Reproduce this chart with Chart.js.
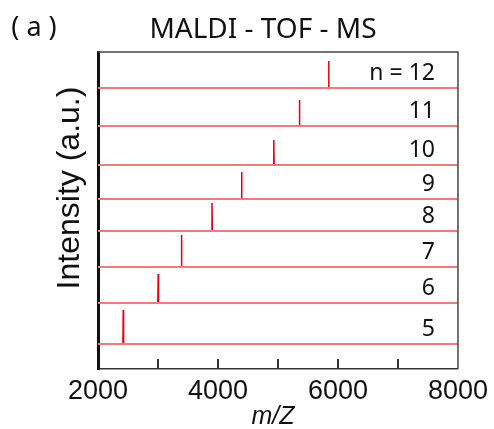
<html lang="en">
<head>
  <meta charset="UTF-8">
  <title>MALDI-TOF-MS</title>
  <script src="https://cdn.jsdelivr.net/npm/chart.js"></script>
  <style>
    body { margin: 0; background: #fff; }
  </style>
</head>
<body>
  <canvas id="msChart" width="494" height="429"></canvas>
  <script>
    // n = 5 ... 12, bottom trace first
    const nValues = [5, 6, 7, 8, 9, 10, 11, 12];
    const peakMz = [2421, 3003, 3391, 3900, 4393, 4930, 5357, 5844];
    const peakHeight = [34, 29, 32, 28, 27, 25, 26, 27];
    const traceOffset = [25, 66, 102, 138, 170, 204, 243, 281];
    const xTicks = [2000, 3000, 4000, 5000, 6000, 7000, 8000];
    const xTickLabels = [2000, 4000, 6000, 8000];

    const datasets = [];
    nValues.forEach((n, i) => {
      const off = traceOffset[i];
      // baseline
      datasets.push({
        data: [{ x: 2000, y: off }, { x: 8000, y: off }],
        borderColor: '#f27a7a',
        borderWidth: 2
      });
      // peak
      datasets.push({
        data: [
          { x: peakMz[i] - 6, y: off },
          { x: peakMz[i], y: off + peakHeight[i] },
          { x: peakMz[i] + 6, y: off }
        ],
        borderColor: '#e60012',
        borderWidth: 1.5
      });
    });

    const decorPlugin = {
      id: 'decor',
      afterDraw(chart) {
        const ctx = chart.ctx;
        const { left, right, top, bottom } = chart.chartArea;
        const xs = chart.scales.x, ys = chart.scales.y;
        ctx.save();

        // top and right frame
        ctx.strokeStyle = '#4a4444';
        ctx.lineWidth = 1.5;
        ctx.beginPath();
        ctx.moveTo(left, top);
        ctx.lineTo(right, top);
        ctx.lineTo(right, bottom);
        ctx.stroke();

        // inward ticks
        ctx.strokeStyle = '#333';
        ctx.lineWidth = 2;
        xTicks.forEach(v => {
          if (v === 2000 || v === 8000) return;
          const px = xs.getPixelForValue(v);
          ctx.beginPath();
          ctx.moveTo(px, bottom);
          ctx.lineTo(px, bottom - 10);
          ctx.stroke();
        });

        // trace labels
        ctx.fillStyle = '#111';
        ctx.font = '23px "Noto Sans"';
        ctx.textAlign = 'right';
        ctx.textBaseline = 'middle';
        nValues.forEach((n, i) => {
          const label = i === nValues.length - 1 ? 'n = ' + n : String(n);
          ctx.fillText(label, xs.getPixelForValue(8000) - 23, ys.getPixelForValue(traceOffset[i]) - 15);
        });

        // titles
        ctx.textAlign = 'center';
        ctx.font = '28px "Noto Sans"';
        ctx.fillText('MALDI - TOF - MS', 263, 30);
        ctx.font = '27px "Noto Sans"';
        ctx.fillText('( a )', 34, 28);

        ctx.font = 'italic 25px "Liberation Sans"';
        ctx.fillText('m/Z', 273, 417);

        ctx.translate(70, 188);
        ctx.rotate(-Math.PI / 2);
        ctx.font = '32px "Liberation Sans"';
        ctx.fillText('Intensity (a.u.)', 0, 0);
        ctx.restore();
      }
    };

    new Chart(document.getElementById('msChart'), {
      type: 'line',
      data: { datasets: datasets },
      options: {
        responsive: false,
        animation: false,
        layout: { padding: { left: 98, right: 35, top: 52, bottom: 0 } },
        elements: { point: { radius: 0 }, line: { tension: 0 } },
        plugins: { legend: { display: false }, tooltip: { enabled: false } },
        scales: {
          x: {
            type: 'linear',
            min: 2000,
            max: 8000,
            afterFit: s => { s.height = 60; },
            afterBuildTicks: s => { s.ticks = xTicks.map(v => ({ value: v })); },
            grid: { display: false, drawTicks: false },
            border: { display: true, color: '#333', width: 1.5 },
            ticks: {
              autoSkip: false,
              maxRotation: 0,
              padding: 6,
              color: '#111',
              font: { family: 'Liberation Sans', size: 27 },
              callback: v => xTickLabels.includes(v) ? String(v) : ''
            }
          },
          y: {
            min: 0,
            max: 317,
            afterFit: s => { s.width = 0; },
            grid: { display: false, drawTicks: false },
            border: { display: true, color: '#111', width: 3 },
            ticks: { display: false }
          }
        }
      },
      plugins: [decorPlugin]
    });
  </script>
</body>
</html>
